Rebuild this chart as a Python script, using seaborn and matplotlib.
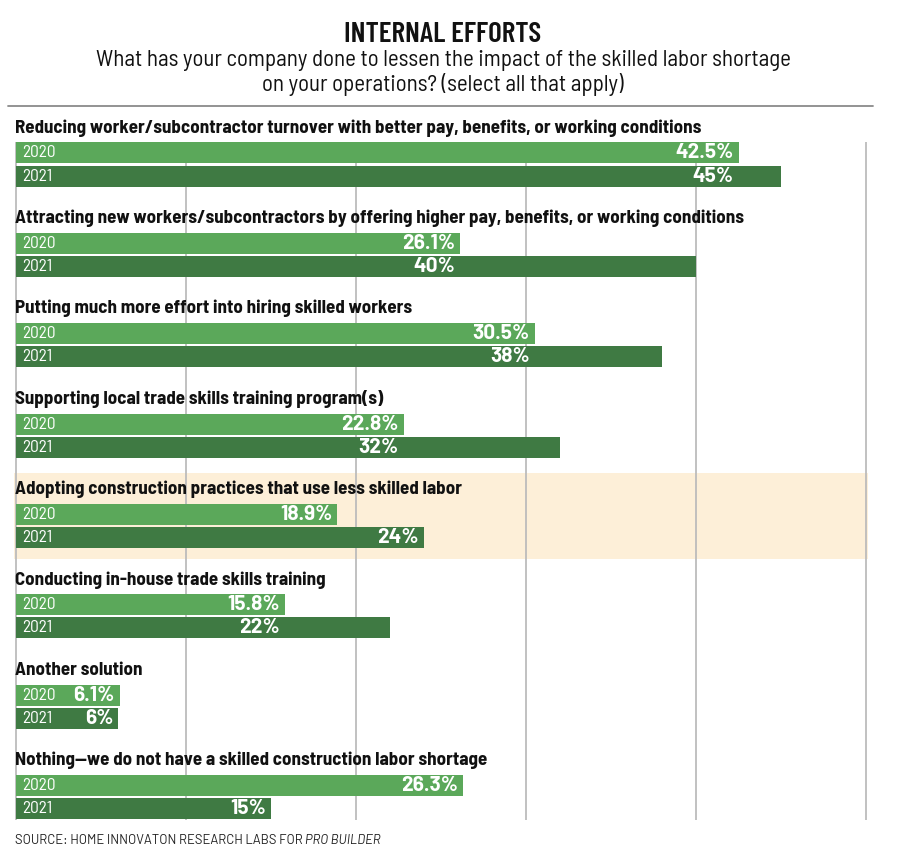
import matplotlib
matplotlib.use("Agg")
import matplotlib.pyplot as plt
import seaborn as sns
import pandas as pd

# ---------------- data ----------------
categories = [
    "Reducing worker/subcontractor turnover with better pay, benefits, or working conditions",
    "Attracting new workers/subcontractors by offering higher pay, benefits, or working conditions",
    "Putting much more effort into hiring skilled workers",
    "Supporting local trade skills training program(s)",
    "Adopting construction practices that use less skilled labor",
    "Conducting in-house trade skills training",
    "Another solution",
    "Nothing\u2014we do not have a skilled construction labor shortage",
]
years = ["2020", "2021"]
values_2020 = [42.5, 26.1, 30.5, 22.8, 18.9, 15.8, 6.1, 26.3]
values_2021 = [45, 40, 38, 32, 24, 22, 6, 15]
labels_2020 = ["42.5%", "26.1%", "30.5%", "22.8%", "18.9%", "15.8%", "6.1%", "26.3%"]
labels_2021 = ["45%", "40%", "38%", "32%", "24%", "22%", "6%", "15%"]
highlight = "Adopting construction practices that use less skilled labor"
title = "INTERNAL EFFORTS"
subtitle = ("What has your company done to lessen the impact of the skilled labor shortage\n"
            "on your operations? (select all that apply)")
gridline_values = [0, 10, 20, 30, 40, 50]

# ---------------- layout / style ----------------
# where the value label of each 2021 bar sits (as in the original graphic)
label_anchor_2021 = [42.5, 26.1, 30.5, 22.8, 24, 15.8, 6, 15]
C2020 = "#5ba85a"
C2021 = "#3f7a43"
BAND = "#fdefd8"
GRID = "#bcbcbc"
PX_PER_PCT = 17.0
X0_PX = 16.0
ROW_PX = 90.36
ROW0_PX = 164.5

F_TITLE = "Barlow Condensed"
F_COND = "Barlow Semi Condensed"
F_REG = "Barlow"

sns.set_theme(style="white")

df = pd.DataFrame({
    "category": categories * 2,
    "year": [years[0]] * len(categories) + [years[1]] * len(categories),
    "value": values_2020 + values_2021,
})

W, H = 900, 859
fig = plt.figure(figsize=(W / 100, H / 100), dpi=100)
ax = fig.add_axes([0, 0, 1, 1])

sns.barplot(data=df, y="category", x="value", hue="year", orient="h",
            order=categories, hue_order=years, palette=[C2020, C2021],
            width=0.51, gap=0.09, dodge=True, legend=False, ax=ax,
            saturation=1, zorder=3, linewidth=0)

# map axes to pixel-like layout
ax.set_xlim(-X0_PX / PX_PER_PCT, (W - X0_PX) / PX_PER_PCT)
ax.set_ylim((H - ROW0_PX) / ROW_PX, -ROW0_PX / ROW_PX)
ax.axis("off")


def px2y(py):
    return (py - ROW0_PX) / ROW_PX


def dx(px):
    return px / PX_PER_PCT


# highlight band behind one category
hi = categories.index(highlight)
ax.axhspan(hi - 0.585, hi + 0.366,
           xmin=14 / W, xmax=868 / W, color=BAND, zorder=0, lw=0)

# gridlines
ax.vlines(gridline_values, px2y(142), px2y(820), colors=GRID, lw=1.3, zorder=1)

# texts
for i, cat in enumerate(categories):
    ax.text(dx(-1), i - 36.5 / ROW_PX, cat, ha="left", va="center",
            fontsize=13.7, family=F_COND, weight="bold", color="#111111", zorder=5)
    y20 = i - 0.1275
    y21 = i + 0.1275
    for yy, yr in ((y20, years[0]), (y21, years[1])):
        ax.text(dx(6), yy, yr, ha="left", va="center", fontsize=12.5,
                family=F_COND, weight="normal", color="white", zorder=5)
    ax.text(values_2020[i] - dx(5), y20, labels_2020[i], ha="right", va="center",
            fontsize=15, family=F_REG, weight="bold", color="white", zorder=5)
    ax.text(label_anchor_2021[i] - dx(5), y21, labels_2021[i], ha="right", va="center",
            fontsize=15, family=F_REG, weight="bold", color="white", zorder=5)

fig.text(443 / W, 1 - 35 / H, title, ha="center", va="center", fontsize=21,
         family=F_TITLE, weight="semibold", color="#111111")
fig.text(443 / W, 1 - 73 / H, subtitle, ha="center", va="center", fontsize=16.5,
         family=F_COND, weight="normal", color="#111111", linespacing=1.1)
fig.add_artist(plt.Line2D([8 / W, 873 / W], [1 - 106 / H, 1 - 106 / H],
                          color="#8a8a8a", lw=1.3))

src = fig.text(15 / W, 1 - 840 / H, "SOURCE: HOME INNOVATON RESEARCH LABS FOR ", ha="left",
               va="center", fontsize=9.4, family=F_REG, color="#222222")
fig.canvas.draw()
bb = src.get_window_extent()
fig.text(bb.x1 / W, 1 - 840 / H, "PRO BUILDER", ha="left", va="center", fontsize=9.4,
         family=F_REG, style="italic", color="#222222")

fig.savefig("out.png", dpi=100, facecolor="white")
